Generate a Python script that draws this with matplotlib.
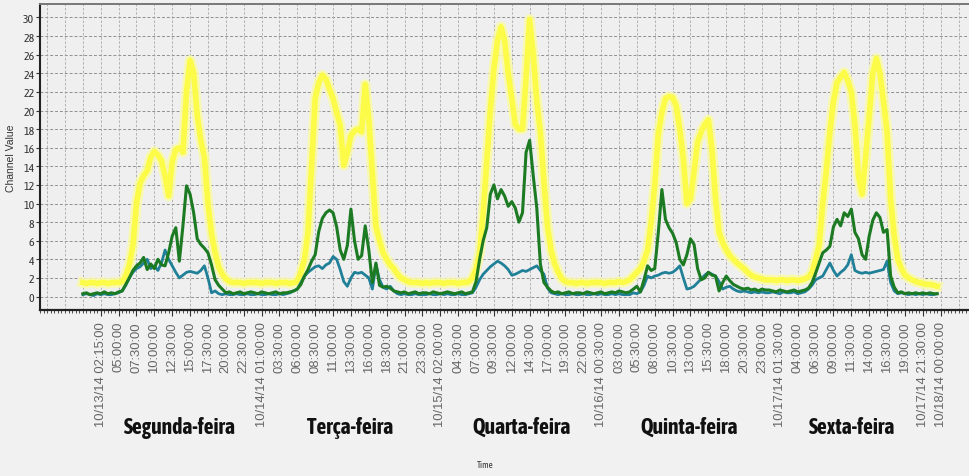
import numpy as np
import matplotlib
matplotlib.use("Agg")
import matplotlib.pyplot as plt
import matplotlib.transforms as mtransforms
from matplotlib.ticker import MultipleLocator

# half-hour samples, one list per weekday (00:00 .. 23:30)
yellow_mon = [1.5, 1.4, 1.5, 1.5, 1.4, 1.5, 1.5, 1.4, 1.5, 1.5, 1.5, 1.6,
              2.2, 3.4, 5.5, 10.0, 12.2, 13.0, 13.5, 15.0, 15.6, 15.2, 14.6, 13.0,
              10.8, 14.5, 15.8, 16.0, 15.5, 22.0, 25.4, 24.0, 19.5, 16.8, 15.0, 10.0,
              6.8, 4.7, 3.2, 2.4, 1.9, 1.6, 1.5, 1.5, 1.5, 1.4, 1.5, 1.5]
yellow_tue = [1.5, 1.5, 1.4, 1.5, 1.5, 1.5, 1.4, 1.5, 1.5, 1.5, 1.4, 1.5, 1.6,
              2.6, 4.0, 6.9, 14.0, 21.3, 23.0, 23.8, 23.4, 22.3, 21.3,
              19.8, 18.4, 14.1, 15.5, 17.3, 17.8, 18.0, 17.7, 22.8, 19.0,
              13.3, 7.5, 6.0, 4.7, 4.0, 3.4, 3.0, 2.4, 2.0, 1.8,
              1.6, 1.5, 1.5, 1.5, 1.4]
yellow_wed = [1.5, 1.4, 1.5, 1.5, 1.5, 1.4, 1.5, 1.5, 1.5, 1.4, 1.5, 1.5, 1.6, 2.0,
              3.0, 4.7, 9.0, 14.5, 20.0, 24.5, 27.5, 29.0, 27.5, 24.0,
              21.3, 18.5, 18.0, 18.0, 23.5, 29.8, 26.0, 21.0, 17.7, 12.3,
              7.5, 5.0, 3.5, 2.6, 1.9, 1.6, 1.5, 1.5, 1.4, 1.5,
              1.5, 1.4, 1.5, 1.5]
yellow_thu = [1.5, 1.5, 1.4, 1.5, 1.5, 1.5, 1.6, 1.5, 1.6,
              1.8, 2.2, 2.6, 3.0, 3.8, 5.0, 8.0, 12.0, 17.5, 19.8,
              21.3, 21.5, 21.4, 20.5, 18.0, 14.8, 10.0, 10.5, 13.5, 16.6,
              17.7, 18.5, 19.0, 15.9, 10.5, 6.9, 5.8, 5.0, 4.4, 4.0,
              3.6, 3.3, 3.0, 2.6, 2.3, 2.1, 2.0, 1.9, 1.8]
yellow_fri = [1.8, 1.8, 1.7, 1.8, 1.8, 1.7, 1.8, 1.8, 1.7, 1.8, 1.9,
              2.1, 2.6, 4.0, 5.5, 10.0, 13.5, 17.7, 21.0, 23.0, 23.6,
              24.1, 23.2, 22.0, 18.5, 13.0, 11.0, 15.0, 19.4, 24.0, 25.6,
              24.0, 21.0, 17.7, 10.5, 6.5, 4.0, 3.0, 2.3, 2.0, 1.8,
              1.6, 1.5, 1.4, 1.3, 1.3, 1.2, 1.1]

green_mon = [0.3, 0.4, 0.2, 0.3, 0.4, 0.3, 0.5, 0.3, 0.4, 0.3, 0.5,
             0.6, 1.3, 2.0, 2.8, 3.3, 3.6, 4.2, 2.9, 3.5, 3.0,
             4.0, 3.4, 3.3, 4.7, 6.5, 7.4, 3.8, 7.6, 11.9, 11.0,
             9.0, 6.2, 5.6, 5.2, 4.7, 3.4, 1.8, 1.2, 0.8, 0.4,
             0.5, 0.3, 0.4, 0.5, 0.3, 0.4, 0.5]
green_tue = [0.4, 0.3, 0.5, 0.4, 0.3, 0.4, 0.5, 0.3, 0.4, 0.4, 0.5, 0.6,
             0.8, 1.3, 2.2, 2.9, 3.8, 4.5, 7.0, 8.4, 9.0, 9.3,
             9.0, 7.5, 5.0, 4.0, 5.5, 9.4, 6.0, 4.0, 4.4, 7.6,
             5.0, 1.5, 3.6, 1.2, 1.0, 1.1, 0.9, 0.6, 0.5, 0.4,
             0.5, 0.3, 0.4, 0.5, 0.3, 0.4]
green_wed = [0.4, 0.3, 0.5, 0.4, 0.3, 0.4, 0.5, 0.4, 0.3, 0.4, 0.5, 0.3, 0.4, 0.5,
             1.6, 4.0, 6.0, 7.4, 11.0, 12.0, 10.5, 11.5, 10.8, 9.7,
             10.2, 9.5, 8.0, 9.0, 15.5, 16.8, 13.0, 9.5, 3.5, 1.5,
             1.0, 0.6, 0.4, 0.5, 0.3, 0.4, 0.5, 0.3, 0.4, 0.4,
             0.3, 0.5, 0.4, 0.3]
green_thu = [0.4, 0.5, 0.3, 0.4, 0.5, 0.4, 0.6, 0.5, 0.4,
             0.5, 0.8, 1.1, 0.5, 1.8, 3.3, 2.8, 3.0, 6.9, 11.5,
             8.3, 7.4, 6.8, 5.8, 4.0, 3.4, 4.5, 6.2, 5.6, 3.0,
             1.8, 2.0, 2.6, 2.3, 2.2, 0.6, 1.5, 2.2, 1.7, 1.3,
             1.1, 0.9, 0.8, 0.9, 0.7, 0.8, 0.6, 0.8, 0.7]
green_fri = [0.7, 0.6, 0.5, 0.7, 0.6, 0.5, 0.6, 0.7, 0.5, 0.6, 0.7,
             0.9, 1.5, 2.5, 3.6, 4.7, 5.0, 5.4, 7.5, 8.3, 7.6,
             9.0, 8.6, 9.4, 6.9, 6.2, 4.5, 4.0, 6.5, 8.2, 9.0,
             8.5, 6.9, 7.2, 2.2, 1.0, 0.4, 0.5, 0.3, 0.4, 0.3,
             0.4, 0.3, 0.4, 0.3, 0.4, 0.3, 0.3]

teal_mon = [0.2, 0.3, 0.2, 0.1, 0.3, 0.2, 0.3, 0.2, 0.2, 0.3, 0.4,
            0.6, 1.2, 2.0, 2.6, 3.0, 3.2, 3.6, 4.0, 3.0, 3.3,
            2.8, 3.6, 5.0, 4.0, 3.3, 2.6, 2.0, 2.3, 2.6, 2.7,
            2.6, 2.5, 2.8, 3.3, 2.0, 0.4, 0.6, 0.3, 0.2, 0.3,
            0.2, 0.2, 0.3, 0.2, 0.2, 0.3, 0.2]
teal_tue = [0.2, 0.3, 0.2, 0.2, 0.3, 0.2, 0.2, 0.3, 0.2, 0.3, 0.4, 0.6,
            0.8, 1.5, 2.2, 2.6, 2.9, 3.2, 3.3, 3.0, 3.4, 3.6,
            4.3, 4.0, 2.9, 1.6, 1.1, 2.0, 2.6, 2.5, 2.6, 2.3,
            2.0, 0.8, 3.4, 1.8, 1.0, 0.8, 1.1, 0.6, 0.3, 0.2,
            0.3, 0.2, 0.2, 0.3, 0.2, 0.2]
teal_wed = [0.2, 0.3, 0.2, 0.2, 0.3, 0.2, 0.3, 0.2, 0.2, 0.3, 0.2, 0.2, 0.3, 0.4,
            1.0, 1.8, 2.4, 2.8, 3.2, 3.5, 3.8, 3.6, 3.3, 2.9,
            2.3, 2.4, 2.6, 2.8, 2.7, 2.9, 3.1, 3.3, 2.8, 2.4,
            0.9, 0.4, 0.3, 0.2, 0.3, 0.2, 0.2, 0.3, 0.2, 0.2,
            0.3, 0.2, 0.2, 0.3]
teal_thu = [0.2, 0.3, 0.2, 0.2, 0.3, 0.2, 0.3, 0.2, 0.2,
            0.2, 0.4, 0.3, 0.5, 1.2, 2.2, 2.0, 2.2, 2.3, 2.5,
            2.6, 2.5, 2.6, 2.9, 3.3, 2.0, 0.8, 0.9, 1.1, 1.5,
            1.9, 2.3, 2.6, 2.4, 2.2, 1.6, 0.8, 1.0, 1.1, 0.8,
            0.6, 0.5, 0.6, 0.5, 0.4, 0.5, 0.4, 0.5, 0.4]
teal_fri = [0.4, 0.5, 0.4, 0.3, 0.5, 0.4, 0.4, 0.5, 0.3, 0.4, 0.5,
            0.8, 1.2, 1.8, 2.0, 2.2, 2.9, 3.6, 2.8, 2.2, 2.6,
            2.9, 3.4, 4.5, 2.8, 2.6, 2.5, 2.6, 2.5, 2.6, 2.7,
            2.8, 2.9, 3.8, 1.5, 0.6, 0.3, 0.4, 0.3, 0.2, 0.3,
            0.2, 0.3, 0.2, 0.3, 0.2, 0.2, 0.3]

day_names = ["Segunda-feira", "Terça-feira", "Quarta-feira", "Quinta-feira", "Sexta-feira"]

tick_labels = [
    "10/13/14 02:15:00", "05:00:00", "07:30:00", "10:00:00", "12:30:00", "15:00:00",
    "17:30:00", "20:00:00", "22:30:00",
    "10/14/14 01:00:00", "03:30:00", "06:00:00", "08:30:00", "11:00:00", "13:30:00",
    "16:00:00", "18:30:00", "21:00:00", "23:30:00",
    "10/15/14 02:00:00", "04:30:00", "07:00:00", "09:30:00", "12:00:00", "14:30:00",
    "17:00:00", "19:30:00", "22:00:00",
    "10/16/14 00:30:00", "03:00:00", "05:30:00", "08:00:00", "10:30:00", "13:00:00",
    "15:30:00", "18:00:00", "20:30:00", "23:00:00",
    "10/17/14 01:30:00", "04:00:00", "06:30:00", "09:00:00", "11:30:00", "14:00:00",
    "16:30:00", "19:00:00", "10/17/14 21:30:00", "10/18/14 00:00:00",
]

yellow = np.concatenate([yellow_mon, yellow_tue, yellow_wed, yellow_thu, yellow_fri])
green = np.concatenate([green_mon, green_tue, green_wed, green_thu, green_fri])
teal = np.concatenate([teal_mon, teal_tue, teal_wed, teal_thu, teal_fri])
hours = np.arange(len(yellow)) * 0.5  # hours since 10/13/14 00:00

plt.rcParams['font.family'] = ['Liberation Sans', 'DejaVu Sans']
narrow = ['Asap Condensed', 'DejaVu Sans']

fig = plt.figure(figsize=(9.7, 4.77), dpi=100, facecolor='#f1f1f1')
ax = fig.add_axes([0.0412, 0.348, 0.9588, 0.6415])
ax.set_facecolor('#efefef')

ax.plot(hours, yellow, color='#fafaa8', lw=7.5, alpha=0.85, solid_joinstyle='round', zorder=2)
ax.plot(hours, yellow, color='#fbfb48', lw=4.0, solid_joinstyle='round', zorder=3)
ax.plot(hours, teal, color='#1f8098', lw=2.0, zorder=4)
ax.plot(hours, green, color='#1b7a22', lw=2.2, zorder=5)

ax.set_xlim(-6.0, 124.1)
ax.set_ylim(-1.45, 31.45)

ax.set_yticks(np.arange(0, 31, 2))
ax.tick_params(axis='y', labelsize=8.5, length=3, pad=1, colors='#333333')
for lab in ax.get_yticklabels():
    lab.set_family(narrow)

tick_hours = np.arange(2.5, 120.01, 2.5)
ax.set_xticks(tick_hours)
ax.set_xticklabels(tick_labels, rotation=90, fontsize=9.4)
ax.xaxis.set_minor_locator(MultipleLocator(0.5))
ax.tick_params(axis='x', which='major', length=4, pad=4, colors='#333333')
ax.tick_params(axis='x', which='minor', length=2, colors='#333333')
for lab in ax.get_xticklabels():
    lab.set_color('#666666')

# dashed grid, vertical lines every 2.5 h across the whole width
for gx in np.arange(-5.0, 124.0, 2.5):
    ax.axvline(gx, color='#a8a8a8', lw=0.6, ls=(0, (3, 2)), zorder=1)
ax.yaxis.grid(True, color='#909090', lw=0.7, ls=(0, (3, 2)), zorder=1)
ax.set_axisbelow(True)

ax.spines['right'].set_visible(False)
ax.spines['left'].set_color('#222222')
ax.spines['left'].set_linewidth(1.5)
ax.spines['bottom'].set_color('#222222')
ax.spines['bottom'].set_linewidth(1.6)
ax.spines['top'].set_color('#777777')
ax.spines['top'].set_linewidth(1.4)

ax.set_ylabel("Channel Value", fontsize=7.5, color='#333333', labelpad=5)
fig.text(0.5, 0.025, "Time", fontsize=6.5, color='#333333', ha='center', va='center',
         family=narrow)

# weekday names under the time axis
trans = mtransforms.blended_transform_factory(ax.transData, fig.transFigure)
for name, xh in zip(day_names, [13.6, 37.4, 61.4, 84.8, 107.6]):
    ax.text(xh, 0.103, name, transform=trans, ha='center', va='center',
            fontsize=15.5, fontweight='bold', color='#111111', family=narrow)

fig.savefig("out.png", dpi=100, facecolor=fig.get_facecolor())
